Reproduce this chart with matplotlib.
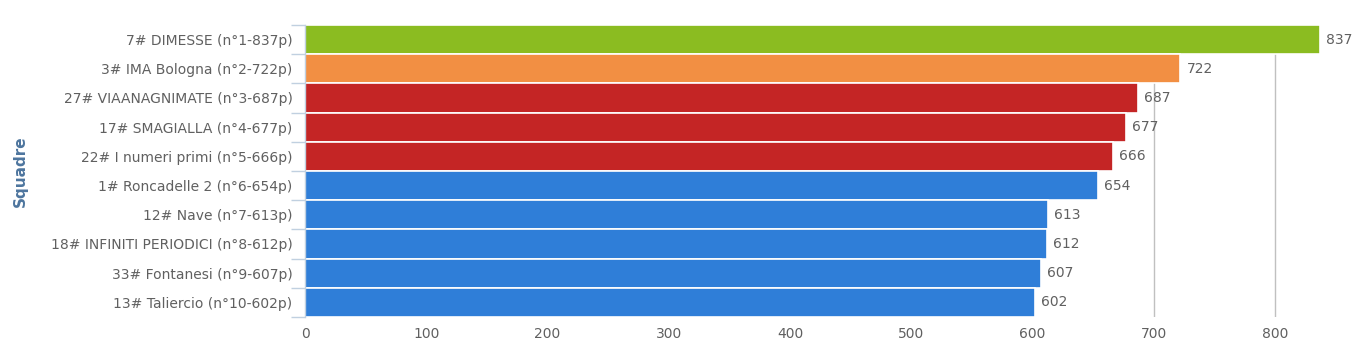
import matplotlib
matplotlib.use("Agg")
import matplotlib.pyplot as plt
from matplotlib.ticker import FixedLocator

teams = ["7# DIMESSE (n°1-837p)", "3# IMA Bologna (n°2-722p)", "27# VIAANAGNIMATE (n°3-687p)",
         "17# SMAGIALLA (n°4-677p)", "22# I numeri primi (n°5-666p)", "1# Roncadelle 2 (n°6-654p)",
         "12# Nave (n°7-613p)", "18# INFINITI PERIODICI (n°8-612p)", "33# Fontanesi (n°9-607p)",
         "13# Taliercio (n°10-602p)"]
points = [837, 722, 687, 677, 666, 654, 613, 612, 607, 602]
colors = ["#8BBC21", "#F28F43", "#C42525", "#C42525", "#C42525",
          "#2F7ED8", "#2F7ED8", "#2F7ED8", "#2F7ED8", "#2F7ED8"]
xticks = [0, 100, 200, 300, 400, 500, 600, 700, 800]

plt.rcParams['font.family'] = ['DejaVu Sans']
fig = plt.figure(figsize=(13.7, 3.54), dpi=100)
ax = fig.add_axes([305/1370, 37/354, (1355-305)/1370, (329-37)/354])

ypos = list(range(len(teams)))
ax.barh(ypos, points, height=1.0, color=colors, edgecolor="white", linewidth=1.2, zorder=2)
for y, v in zip(ypos, points):
    ax.text(v + 5, y, str(v), va="center", ha="left", fontsize=10, color="#606060", zorder=3)

ax.set_ylim(len(teams) - 0.5, -0.5)
ax.set_xlim(0, 866)
ax.set_yticks(ypos)
ax.set_yticklabels(teams, fontsize=10, color="#606060")
ax.yaxis.set_minor_locator(FixedLocator([i - 0.5 for i in range(len(teams) + 1)]))
ax.tick_params(axis="y", which="major", length=0, pad=9)
ax.tick_params(axis="y", which="minor", length=10, color="#C0D0E0", width=1)
ax.set_xticks(xticks)
ax.set_xticklabels([str(t) for t in xticks], fontsize=10, color="#606060")
ax.tick_params(axis="x", length=0, pad=7)
ax.grid(axis="x", color="#C0C0C0", linewidth=1, zorder=0)
ax.set_axisbelow(True)
for s in ["top", "right", "bottom"]:
    ax.spines[s].set_visible(False)
ax.spines["left"].set_color("#C0D0E0")
ax.spines["left"].set_linewidth(1)
ax.set_ylabel("Squadre", fontsize=11, color="#4D759E", fontweight="bold")
ax.yaxis.set_label_coords(-(305 - 28) / 1050, 0.5)

fig.savefig("out.png", dpi=100, facecolor="white")
